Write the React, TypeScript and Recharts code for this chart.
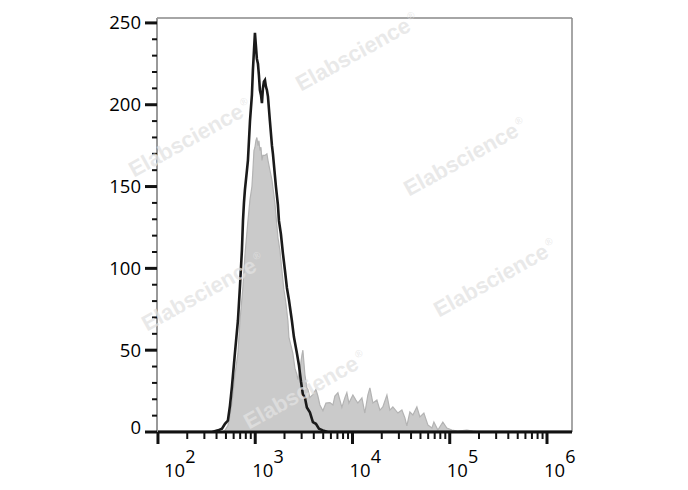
import { Area, ComposedChart, Line, ReferenceLine, XAxis, YAxis } from 'recharts'

// x values are log10 of fluorescence intensity, y values are cell counts
const ctrlLog = [
  2.0, 2.658, 2.689, 2.719, 2.74, 2.761, 2.791, 2.822, 2.843, 2.874, 2.894, 2.925, 2.946, 2.966,
  2.976, 2.987, 2.997, 3.007, 3.017, 3.028, 3.038, 3.048, 3.059, 3.069, 3.079, 3.1, 3.12, 3.131,
  3.151, 3.172, 3.202, 3.223, 3.233, 3.254, 3.274, 3.295, 3.315, 3.336, 3.346, 3.367, 3.387, 3.408,
  3.429, 3.439, 3.459, 3.48, 3.49, 3.511, 3.531, 3.542, 3.562, 3.593, 3.624, 3.644, 3.665, 3.696,
  3.727, 3.768, 3.799, 3.819, 3.85, 3.891, 3.922, 3.942, 3.963, 4.004, 4.035, 4.055, 4.097, 4.127,
  4.158, 4.179, 4.21, 4.251, 4.282, 4.312, 4.354, 4.384, 4.415, 4.467, 4.508, 4.539, 4.559, 4.59,
  4.621, 4.662, 4.693, 4.734, 4.775, 4.816, 4.837, 4.878, 4.929, 4.97, 5.022, 5.083, 5.176, 5.237,
  5.309, 6.255,
]
const ctrlCount = [
  0, 0, 1, 4, 10, 18, 35, 48, 68, 89, 108, 129, 142, 150,
  160, 172, 174, 178, 180, 175, 178, 172, 174, 166, 169, 169, 170, 166,
  160, 154, 140, 126, 119, 111, 99, 87, 79, 68, 58, 53, 48, 39,
  35, 32, 38, 47, 50, 35, 27, 26, 21, 23, 26, 22, 16.5, 13,
  17.7, 18, 16.5, 22, 24, 15, 21, 24, 17.7, 22.6, 19.5, 17.7, 20.8, 11.6,
  22.6, 27, 17.7, 19.5, 13.4, 15.3, 22.6, 13.4, 15.3, 11.6, 13.4, 8.6, 3.7, 12.2,
  10.4, 15.3, 9.2, 11.6, 4.3, 2.4, 6.1, 1.2, 6.1, 2.4, 1.2, 0.6, 1.2, 0.6,
  0, 0,
]

const stainLog = [
  2.0, 2.555, 2.617, 2.658, 2.689, 2.719, 2.74, 2.761, 2.791, 2.822, 2.843, 2.863, 2.874, 2.884, 2.894,
  2.915, 2.925, 2.946, 2.966, 2.976, 2.987, 2.997, 3.007, 3.017, 3.028, 3.038, 3.048, 3.059, 3.069,
  3.079, 3.089, 3.1, 3.11, 3.12, 3.131, 3.151, 3.172, 3.182, 3.202, 3.213, 3.233, 3.244, 3.264,
  3.285, 3.305, 3.326, 3.346, 3.377, 3.398, 3.429, 3.449, 3.47, 3.49, 3.511, 3.531, 3.562, 3.593,
  3.624, 3.655, 3.696, 3.747, 6.255,
]
const stainCount = [
  0, 0, 1, 2, 5, 7, 16, 28, 48, 68, 89, 111, 129, 140, 148,
  160, 166, 190, 206, 221, 233, 244, 236, 228, 225, 218, 209, 206, 201,
  210, 214, 215, 211, 209, 205, 190, 175, 170, 157, 150, 139, 129, 121,
  109, 99, 88, 81, 68, 58, 48, 41, 31, 23, 21, 15, 12, 6,
  5, 2, 1, 0, 0,
]

const decades = [2, 3, 4, 5, 6]
const minorSteps = [2, 3, 4, 5, 6, 7, 8, 9]
const countTicks = [0, 10, 20, 30, 40, 50, 60, 70, 80, 90, 100, 110, 120, 130, 140, 150, 160, 170, 180, 190, 200, 210, 220, 230, 240, 250]

const watermarks = [
  { x: 357, y: 52 },
  { x: 465, y: 157 },
  { x: 495, y: 278 },
  { x: 190, y: 138 },
  { x: 203, y: 292 },
  { x: 305, y: 390 },
]

const xMin = 1.99
const xMax = 6.257
const yMax = 253

const ctrlData = ctrlLog.map((x, i) => ({ x, count: ctrlCount[i] }))
const stainData = stainLog.map((x, i) => ({ x, count: stainCount[i] }))

const xTicks = [
  ...decades,
  ...decades.slice(0, -1).flatMap((d) => minorSteps.map((m) => d + Math.log10(m))),
].sort((a, b) => a - b)

const font = '"Open Sans", sans-serif'

const YTick = (props: any) => {
  const { x, y, payload } = props
  const major = payload.value % 50 === 0
  return (
    <g>
      <line x1={x - (major ? 12 : 5)} x2={x} y1={y} y2={y} stroke='#111' strokeWidth={major ? 3 : 2} />
      {major && (
        <text
          x={x - 16}
          y={y}
          dy={payload.value === 0 ? '0.1em' : '0.35em'}
          textAnchor='end'
          fontSize={18.5}
          fontFamily={font}
          fill='#000'
        >
          {payload.value}
        </text>
      )}
    </g>
  )
}

const XTick = (props: any) => {
  const { x, y, payload } = props
  const v = payload.value
  const major = Math.abs(v - Math.round(v)) < 1e-6
  const shift = Math.round(v) === 2 ? 6 : -3
  return (
    <g>
      <line x1={x} x2={x} y1={y} y2={y + (major ? 12 : 7)} stroke='#111' strokeWidth={major ? 3 : 2} />
      {major && (
        <text x={x + shift} y={y + 45} fontSize={18.5} fontFamily={font} fill='#000'>
          10
          <tspan dy={-14} fontSize={18}>
            {Math.round(v)}
          </tspan>
        </text>
      )}
    </g>
  )
}

export default function App() {
  return (
    <div style={{ position: 'absolute', left: 0, top: 0, width: 688, height: 490, background: '#fff' }}>
      <ComposedChart width={688} height={490} margin={{ top: 18, right: 116, bottom: 0, left: 97 }}>
        <XAxis
          type='number'
          dataKey='x'
          domain={[xMin, xMax]}
          allowDataOverflow
          ticks={xTicks}
          interval={0}
          tick={<XTick />}
          tickLine={false}
          tickSize={0}
          tickMargin={0}
          height={58}
          axisLine={{ stroke: '#111', strokeWidth: 3 }}
        />
        <YAxis
          type='number'
          domain={[0, yMax]}
          allowDataOverflow
          ticks={countTicks}
          interval={0}
          tick={<YTick />}
          tickLine={false}
          tickSize={0}
          tickMargin={0}
          width={60}
          axisLine={{ stroke: '#999', strokeWidth: 2 }}
        />
        <ReferenceLine y={yMax} stroke='#888' strokeWidth={1.5} />
        <ReferenceLine x={xMax} stroke='#888' strokeWidth={1.5} />
        <Area
          data={ctrlData}
          dataKey='count'
          type='linear'
          fill='#cacaca'
          fillOpacity={1}
          stroke='#b3b3b3'
          strokeWidth={1.2}
          isAnimationActive={false}
        />
        <Line
          data={stainData}
          dataKey='count'
          type='linear'
          stroke='#1a1a1a'
          strokeWidth={2.6}
          dot={false}
          isAnimationActive={false}
        />
      </ComposedChart>
      <svg
        width={688}
        height={490}
        style={{ position: 'absolute', left: 0, top: 0, pointerEvents: 'none' }}
      >
        {watermarks.map((w, i) => (
          <text
            key={i}
            x={w.x}
            y={w.y}
            dy='0.35em'
            textAnchor='middle'
            transform={`rotate(-29 ${w.x} ${w.y})`}
            fontFamily='"Liberation Sans", Arial, sans-serif'
            fontWeight='bold'
            fontSize={22}
            fill='#e2e2e2'
            fillOpacity={0.75}
          >
            Elabscience
            <tspan dx={2} dy={-10} fontSize={10} fontWeight='normal'>
              ®
            </tspan>
          </text>
        ))}
      </svg>
    </div>
  )
}
